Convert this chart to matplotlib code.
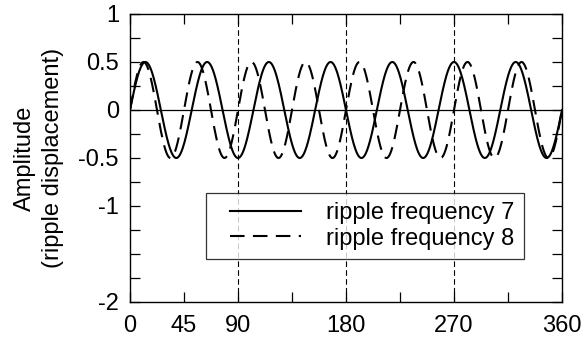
import numpy as np
import matplotlib.pyplot as plt
from matplotlib.ticker import MultipleLocator, FixedLocator
from matplotlib.legend_handler import HandlerLine2D

plt.rcParams['font.family'] = ['Liberation Sans', 'DejaVu Sans']

# ripple settings
frequencies = [7, 8]
amplitude = 0.5
styles = ['-', (0, (7, 4))]
labels = ['ripple frequency 7', 'ripple frequency 8']
xticks = [0, 45, 90, 180, 270, 360]
yticks = [1, 0.5, 0, -0.5, -1, -2]
guides = [90, 180, 270]


# legend line with some empty room on its left
class PadHandler(HandlerLine2D):
    def create_artists(self, legend, orig_handle, xdescent, ydescent, width, height, fontsize, trans):
        pad = 10.5
        return super().create_artists(legend, orig_handle, xdescent - pad, ydescent,
                                      width - pad, height, fontsize, trans)


x = np.linspace(0, 360, 2000)

fig = plt.figure(figsize=(5.84, 3.38), dpi=100)
ax = fig.add_axes([130/584, 36/338, 432/584, 288/338])

for f, ls, lab in zip(frequencies, styles, labels):
    ax.plot(x, amplitude*np.sin(np.radians(f*x)), color='black', ls=ls, lw=1.5, label=lab)

ax.axhline(0, color='black', lw=0.9)
for g in guides:
    ax.axvline(g, color='black', lw=0.8, ls=(0, (5, 3)))

ax.set_xlim(0, 360)
ax.set_ylim(-2, 1)
ax.xaxis.set_major_locator(FixedLocator(xticks))
ax.xaxis.set_minor_locator(MultipleLocator(45))
ax.yaxis.set_major_locator(FixedLocator(yticks))
ax.yaxis.set_minor_locator(MultipleLocator(0.25))
ax.set_yticklabels(['1', '0.5', '0', '-0.5', '-1', '-2'])
ax.tick_params(which='both', direction='in', top=True, right=True, length=7, width=0.9, labelsize=17)
ax.tick_params(axis='x', pad=9)
ax.tick_params(axis='y', pad=8)
for s in ax.spines.values():
    s.set_linewidth(1.0)

ax.set_ylabel('Amplitude\n(ripple displacement)', fontsize=17, linespacing=1.35)
ax.yaxis.set_label_coords(-0.153, 0.5)

leg = ax.legend(loc='lower right', bbox_to_anchor=(0.912, 0.149), borderaxespad=0, fontsize=17,
                frameon=True, fancybox=False, edgecolor='black', handlelength=3.66,
                handletextpad=1.05, borderpad=0.4, labelspacing=0.15,
                handler_map={plt.Line2D: PadHandler()})
leg.get_frame().set_linewidth(0.9)

fig.savefig('out.png', dpi=100)
